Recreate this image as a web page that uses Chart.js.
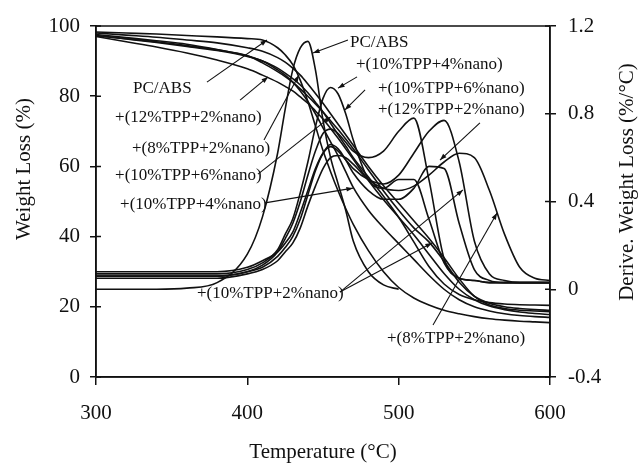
<!DOCTYPE html>
<html>
<head>
<meta charset="utf-8">
<script src="https://cdn.jsdelivr.net/npm/chart.js@4.4.1/dist/chart.umd.min.js"></script>
<style>
  html, body { margin: 0; padding: 0; background: #fff; }
  #wrap { width: 639px; height: 464px; }
</style>
</head>
<body>
<div id="wrap"><canvas id="tga"></canvas></div>
<script>
// temperature grid (°C)
const temps = [300, 320, 340, 360, 380, 400, 410, 420, 425, 430, 435, 440, 445, 450, 455, 460, 465, 470, 480, 490, 500, 510, 520, 530, 540, 550, 560, 570, 580, 590, 600];

// weight loss curves (%) - left axis
const tgaPCABS = [98.3, 98.0, 97.7, 97.3, 96.9, 96.4, 96.0, 93.8, 91.8, 89.0, 84.5, 78.5, 71.5, 64.5, 58.5, 53.0, 48.0, 43.5, 36.0, 30.0, 25.5, 22.5, 20.5, 19.0, 18.0, 17.2, 16.6, 16.2, 15.9, 15.7, 15.5];
const tga10_2 = [97.2, 96.4, 95.5, 94.4, 93.2, 91.5, 89.5, 87.0, 85.6, 84.0, 82.1, 80.0, 77.8, 75.5, 73.0, 70.5, 67.8, 65.0, 59.0, 53.0, 47.5, 42.5, 38.5, 33.0, 27.0, 23.0, 21.0, 20.0, 19.5, 19.2, 19.0];
const tga10_4 = [97.3, 96.3, 95.3, 94.2, 93.0, 91.3, 90.0, 87.5, 86.0, 84.0, 81.5, 78.5, 75.0, 71.0, 67.0, 63.0, 58.5, 54.0, 47.5, 42.5, 38.0, 33.5, 29.0, 25.0, 22.0, 20.0, 18.8, 18.0, 17.5, 17.2, 17.0];
const tga10_6 = [97.6, 96.7, 95.8, 94.8, 93.3, 91.5, 90.0, 88.0, 86.6, 85.0, 83.2, 81.0, 78.3, 75.5, 72.3, 69.0, 65.8, 62.5, 57.0, 51.5, 45.5, 38.5, 31.5, 26.5, 23.5, 22.0, 21.2, 20.8, 20.6, 20.5, 20.4];
const tga12_2 = [97.0, 95.5, 94.0, 92.3, 90.3, 87.8, 86.0, 84.0, 82.8, 81.5, 79.8, 78.0, 75.8, 73.5, 70.8, 68.0, 65.0, 62.0, 56.0, 50.5, 45.5, 40.5, 35.0, 29.5, 25.0, 22.0, 20.2, 19.2, 18.5, 18.1, 17.8];
const tga8_2 = [98.0, 97.4, 96.8, 96.0, 95.2, 93.8, 92.8, 91.0, 89.7, 88.0, 86.0, 83.5, 80.8, 78.0, 75.0, 72.0, 69.0, 66.0, 60.0, 54.5, 49.5, 44.5, 39.5, 34.0, 28.0, 23.0, 20.5, 19.5, 19.0, 18.8, 18.6];

// derivative weight loss curves (%/°C) - right axis
const dtgPCABS = [0.0, 0.0, 0.0, 0.005, 0.03, 0.16, 0.33, 0.62, 0.82, 1.0, 1.1, 1.13, 1.0, 0.77, 0.6, 0.48, 0.36, 0.22, 0.08, 0.02, 0.0, null, null, null, null, null, null, null, null, null, null];
const dtg10_2 = [0.08, 0.08, 0.08, 0.08, 0.08, 0.10, 0.13, 0.17, 0.21, 0.26, 0.35, 0.45, 0.55, 0.62, 0.65, 0.63, 0.59, 0.55, 0.50, 0.48, 0.52, 0.62, 0.72, 0.77, 0.58, 0.22, 0.07, 0.04, 0.03, 0.03, 0.03];
const dtg10_4 = [0.07, 0.07, 0.07, 0.07, 0.07, 0.09, 0.12, 0.18, 0.25, 0.32, 0.44, 0.58, 0.74, 0.87, 0.92, 0.89, 0.80, 0.68, 0.50, 0.46, 0.50, 0.50, 0.32, 0.12, 0.05, 0.04, 0.03, 0.03, 0.03, 0.03, 0.03];
const dtg10_6 = [0.06, 0.06, 0.06, 0.06, 0.06, 0.08, 0.11, 0.17, 0.23, 0.30, 0.40, 0.52, 0.63, 0.71, 0.73, 0.71, 0.67, 0.63, 0.60, 0.63, 0.72, 0.78, 0.50, 0.14, 0.05, 0.04, 0.03, 0.03, 0.03, 0.03, 0.03];
const dtg12_2 = [0.06, 0.06, 0.06, 0.06, 0.06, 0.08, 0.10, 0.15, 0.19, 0.24, 0.32, 0.43, 0.54, 0.62, 0.66, 0.64, 0.59, 0.53, 0.45, 0.41, 0.41, 0.46, 0.56, 0.55, 0.30, 0.09, 0.04, 0.03, 0.03, 0.03, 0.03];
const dtg8_2 = [0.05, 0.05, 0.05, 0.05, 0.05, 0.07, 0.09, 0.13, 0.17, 0.21, 0.28, 0.38, 0.47, 0.55, 0.60, 0.61, 0.60, 0.57, 0.50, 0.46, 0.45, 0.47, 0.52, 0.58, 0.62, 0.60, 0.45, 0.25, 0.10, 0.05, 0.04];

// curve labels: text, text anchor and arrow ends, all as (T, W) on the left axis
const notes = [
  { text: "PC/ABS", at: [467.8, 95.2], from: [466.5, 96.0], to: [443.4, 92.3] },
  { text: "+(10%TPP+4%nano)", at: [471.8, 88.9], from: [472.5, 85.5], to: [459.9, 82.3] },
  { text: "+(10%TPP+6%nano)", at: [486.3, 82.3], from: [477.8, 81.8], to: [464.5, 76.1] },
  { text: "+(12%TPP+2%nano)", at: [486.3, 76.1], from: [553.7, 72.4], to: [527.3, 61.8] },
  { text: "PC/ABS", at: [324.5, 82.3], from: [373.3, 84.0], to: [413.0, 96.0] },
  { text: "+(12%TPP+2%nano)", at: [312.6, 73.8], from: [395.2, 78.9], to: [413.7, 85.5] },
  { text: "+(8%TPP+2%nano)", at: [323.8, 65.2], from: [411.0, 67.5], to: [434.0, 86.0] },
  { text: "+(10%TPP+6%nano)", at: [312.6, 57.5], from: [407.0, 57.8], to: [455.0, 74.1] },
  { text: "+(10%TPP+4%nano)", at: [315.9, 49.0], from: [411.7, 49.6], to: [469.8, 53.8] },
  { text: "+(10%TPP+2%nano)", at: [366.7, 23.9], from: [461.2, 24.2], to: [522.0, 38.2] },
  { text: "", at: null, from: [461.2, 24.2], to: [542.5, 53.3] },
  { text: "+(8%TPP+2%nano)", at: [492.3, 11.1], from: [522.7, 14.8], to: [565.0, 46.7] }
];

const serif = "'Liberation Serif', 'DejaVu Serif', serif";

function tgaSet(data) {
  return { data: data, yAxisID: "y", borderColor: "#111", borderWidth: 1.6, pointRadius: 0, fill: false, cubicInterpolationMode: "monotone" };
}
function dtgSet(data) {
  return { data: data, yAxisID: "y1", borderColor: "#111", borderWidth: 1.6, pointRadius: 0, fill: false, cubicInterpolationMode: "monotone" };
}

// frame, inner tick marks, axis titles and arrow labels
const decorations = {
  id: "decorations",
  afterDatasetsDraw(chart) {
    const { ctx, chartArea: a, scales } = chart;
    const x = scales.x, y = scales.y, y1 = scales.y1;
    ctx.save();
    ctx.strokeStyle = "#111";
    ctx.lineWidth = 1.5;
    ctx.strokeRect(a.left, a.top, a.right - a.left, a.bottom - a.top);
    // ticks poking into the plot
    ctx.beginPath();
    y.ticks.forEach(t => { const p = y.getPixelForValue(t.value); ctx.moveTo(a.left, p); ctx.lineTo(a.left + 5, p); });
    y1.ticks.forEach(t => { const p = y1.getPixelForValue(t.value); ctx.moveTo(a.right, p); ctx.lineTo(a.right - 5, p); });
    ctx.stroke();

    // axis titles
    ctx.fillStyle = "#111";
    ctx.font = "21px " + serif;
    ctx.textAlign = "center";
    ctx.textBaseline = "middle";
    ctx.fillText("Temperature (\u00B0C)", (a.left + a.right) / 2, 452);
    ctx.save();
    ctx.translate(24, 169);
    ctx.rotate(-Math.PI / 2);
    ctx.fillText("Weight Loss (%)", 0, 0);
    ctx.restore();
    ctx.save();
    ctx.translate(627, 182);
    ctx.rotate(-Math.PI / 2);
    ctx.fillText("Derive. Weight Loss (%/\u00B0C)", 0, 0);
    ctx.restore();

    // labels with arrows
    ctx.font = "17px " + serif;
    ctx.textAlign = "left";
    ctx.lineWidth = 1.1;
    notes.forEach(n => {
      if (n.at) ctx.fillText(n.text, x.getPixelForValue(n.at[0]), y.getPixelForValue(n.at[1]));
      const x0 = x.getPixelForValue(n.from[0]), y0 = y.getPixelForValue(n.from[1]);
      const x1 = x.getPixelForValue(n.to[0]), y1p = y.getPixelForValue(n.to[1]);
      ctx.beginPath();
      ctx.moveTo(x0, y0);
      ctx.lineTo(x1, y1p);
      ctx.stroke();
      const ang = Math.atan2(y1p - y0, x1 - x0);
      ctx.beginPath();
      ctx.moveTo(x1, y1p);
      ctx.lineTo(x1 - 7 * Math.cos(ang - 0.35), y1p - 7 * Math.sin(ang - 0.35));
      ctx.lineTo(x1 - 7 * Math.cos(ang + 0.35), y1p - 7 * Math.sin(ang + 0.35));
      ctx.closePath();
      ctx.fill();
    });
    ctx.restore();
  }
};

new Chart(document.getElementById("tga"), {
  type: "line",
  data: {
    labels: temps,
    datasets: [
      tgaSet(tgaPCABS), tgaSet(tga10_2), tgaSet(tga10_4), tgaSet(tga10_6), tgaSet(tga12_2), tgaSet(tga8_2),
      dtgSet(dtgPCABS), dtgSet(dtg10_2), dtgSet(dtg10_4), dtgSet(dtg10_6), dtgSet(dtg12_2), dtgSet(dtg8_2)
    ]
  },
  options: {
    responsive: true,
    maintainAspectRatio: false,
    animation: false,
    layout: { padding: { top: 26, left: 0, right: 0, bottom: 0 } },
    plugins: { legend: { display: false }, tooltip: { enabled: false } },
    scales: {
      x: {
        type: "linear",
        min: 300, max: 600,
        afterFit(s) { s.height = 87; },
        border: { display: true, color: "#111", width: 1.5 },
        grid: { drawOnChartArea: false, tickLength: 8, color: "#111", lineWidth: 1.5 },
        ticks: { stepSize: 100, color: "#111", font: { family: serif, size: 21 }, padding: 16, maxRotation: 0 }
      },
      y: {
        position: "left",
        min: 0, max: 100,
        afterFit(s) { s.width = 96; },
        border: { display: true, color: "#111", width: 1.5 },
        grid: { drawOnChartArea: false, tickLength: 6, color: "#111", lineWidth: 1.5 },
        ticks: { stepSize: 20, color: "#111", font: { family: serif, size: 21 }, padding: 10 }
      },
      y1: {
        position: "right",
        min: -0.4, max: 1.2,
        afterFit(s) { s.width = 89; },
        border: { display: true, color: "#111", width: 1.5 },
        grid: { drawOnChartArea: false, tickLength: 6, color: "#111", lineWidth: 1.5 },
        ticks: { stepSize: 0.4, color: "#111", font: { family: serif, size: 21 }, padding: 12,
          callback: v => (Math.abs(v) < 1e-9 ? "0" : v.toFixed(1)) }
      }
    }
  },
  plugins: [decorations]
});
</script>
</body>
</html>
